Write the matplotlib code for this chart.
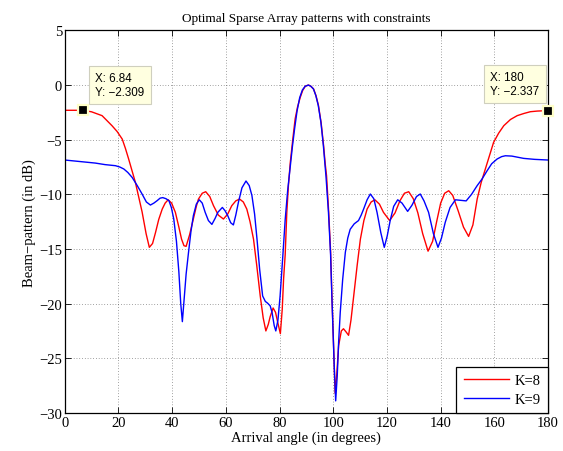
import matplotlib
matplotlib.use("Agg")
import matplotlib.pyplot as plt

# K=8 (red): angle (deg), beam pattern (dB)
red_x = [0, 3, 6.84, 10, 13.9, 17.6, 19.5, 21.4, 22.6, 23.8, 25, 26.3, 27.5, 28.8, 30.3, 31.5, 32.7, 33.8,
         35, 36.3, 37.4, 38.5, 39.8, 41.2, 42.5, 43.5, 44.4, 45.2, 46.5, 47.9, 49, 49.8, 51.2, 52.5, 54,
         55.4, 57.2, 59.1, 60.7, 62.2, 63.7, 65.1, 66.5, 67.8, 69, 70.3, 71.5, 72.8, 73.9, 74.9, 75.8, 76.5,
         77.6, 78.5, 79.4, 80.3, 81.0, 81.5, 82.1, 82.7, 83.3, 84, 85, 85.8, 86.7, 87.7, 88.6, 89.6, 90.8,
         91.7, 92.7, 93.6, 94.5, 95.5, 96.4, 97.0, 97.5, 98.3, 99.0, 99.5, 100.2, 100.7, 101.3, 102, 103,
         103.8, 104.8, 105.7, 106.6, 107.6, 108.9, 110.1, 111.4, 112.6, 114.1, 115.5, 117.2, 118.7, 121, 123,
         124.8, 126.5, 128.1, 129.8, 131.5, 133.3, 135.3, 137, 138.5, 140, 141.5, 143, 144.5, 146.5, 148.5,
         150.4, 152, 153.6, 155.1, 156.6, 158.2, 159.7, 161.6, 163.5, 166, 168.5, 171, 173.4, 176, 180]
red_y = [-2.31, -2.31, -2.309, -2.45, -2.8, -3.72, -4.25, -4.94, -5.8, -6.77, -7.8, -8.9, -10.2, -11.6, -13.6,
         -14.85, -14.5, -13.5, -12.3, -11.35, -10.8, -10.5, -10.8, -11.65, -13.0, -14.1, -14.7, -14.76,
         -13.7, -12.26, -11.1, -10.43, -9.9, -9.76, -10.2, -11.04, -11.9, -12.26, -11.8, -11.04, -10.6,
         -10.43, -10.7, -11.35, -12.5, -14.1, -16.5, -19.3, -21.3, -22.5, -21.9, -21.2, -20.4, -20.8,
         -21.8, -22.75, -20.5, -17.75, -15.5, -11.65, -9.2, -7.07, -4.8, -3.1, -2.0, -1.13, -0.5, -0.1, 0.0,
         -0.12, -0.37, -1.0, -1.89, -3.5, -5.55, -7.2, -8.3, -11.65, -15.2, -19.3, -24.5, -28.2, -26.5,
         -23.85, -22.5, -22.3, -22.6, -22.9, -21.5, -19.3, -16.5, -14.1, -12.4, -11.35, -10.7, -10.5, -10.9,
         -11.65, -12.4, -11.7, -10.6, -9.9, -9.76, -10.4, -11.7, -13.6, -15.2, -14.3, -12.5, -10.8, -9.9,
         -9.67, -10.1, -11.5, -13.0, -13.85, -12.8, -10.43, -8.9, -7.7, -6.4, -5.25, -4.4, -3.72, -3.15,
         -2.8, -2.6, -2.44, -2.38, -2.337]

# K=9 (blue)
blue_x = [0, 5, 11.4, 15, 18.9, 20.5, 22, 23.5, 25.1, 27, 28.8, 30.4, 31.9, 33.2, 34.4, 35.5, 36.5, 37.7,
          38.8, 39.7, 40.6, 41.6, 42.5, 43.2, 43.8, 44.5, 45.2, 46.1, 47.0, 47.9, 49.0, 50.1, 51.2, 52.3,
          53.5, 54.8, 56, 57, 58.7, 59.7, 60.7, 61.8, 62.8, 63.7, 64.7, 66, 67.5, 68.7, 69.7, 70.7, 71.6,
          72.6, 73.7, 74.7, 75.5, 76.5, 77.2, 78, 78.6, 79.4, 80.2, 81.2, 82.1, 83, 84, 84.8, 85.6, 86.5,
          87.5, 88.5, 89.5, 90.7, 91.6, 92.6, 93.5, 94.4, 95.4, 96.3, 97.3, 98.2, 99.0, 99.5, 100.4, 100.9,
          101.5, 102, 102.6, 103.5, 104.5, 105.4, 106.3, 107.8, 109.4, 110.4, 111.3, 112.6, 113.8, 115.1,
          116.3, 117.7, 119, 120.1, 121.2, 122.5, 124, 125.6, 127.7, 129.3, 131, 132.4, 133.8, 135.5, 137.3,
          139, 140.3, 141.7, 143.5, 145.5, 147.5, 149.5, 151.5, 153.6, 155.4, 157.3, 159, 161, 162.7, 164.1,
          166.5, 168.5, 170.9, 175, 180]
blue_y = [-6.86, -6.98, -7.14, -7.28, -7.38, -7.5, -7.68, -8.0, -8.45, -9.2, -9.97, -10.7, -10.98, -10.8,
          -10.58, -10.35, -10.3, -10.4, -10.58, -11.2, -12.26, -14.3, -17.1, -20.0, -21.65, -19.5, -17.3,
          -15.3, -13.4, -11.95, -10.9, -10.5, -10.8, -11.65, -12.4, -12.75, -12.2, -11.65, -11.2, -11.5,
          -11.95, -12.6, -12.8, -11.9, -10.7, -9.4, -8.78, -9.2, -10.1, -11.8, -14.1, -16.9, -19.3, -19.8,
          -19.95, -20.2, -20.8, -22.0, -22.5, -21.5, -19.3, -15.7, -12.3, -9.7, -7.4, -5.6, -4.0, -2.4,
          -1.15, -0.45, -0.12, 0.0, -0.1, -0.35, -0.95, -1.85, -3.4, -5.5, -8.4, -11.6, -15.5, -19.5, -26.0,
          -28.9, -26.5, -23.5, -20.8, -17.8, -15.3, -14.0, -13.2, -12.7, -12.4, -11.9, -11.35, -10.5, -9.97,
          -10.4, -11.65, -13.5, -14.85, -13.8, -12.4, -11.1, -10.5, -10.8, -11.56, -11.0, -10.2, -9.97,
          -10.6, -11.65, -13.6, -14.85, -14.0, -12.56, -11.2, -10.5, -10.55, -10.6, -10.0, -9.2, -8.6,
          -7.84, -7.2, -6.77, -6.55, -6.47, -6.5, -6.6, -6.71, -6.8, -6.86]

# data tips
tip_x = [6.84, 180]
tip_y = [-2.309, -2.337]
tip_labels = ["X: 6.84\nY: \u22122.309", "X: 180\nY: \u22122.337"]

xticks = [0, 20, 40, 60, 80, 100, 120, 140, 160, 180]
yticks = [5, 0, -5, -10, -15, -20, -25, -30]

serif = ["Liberation Serif", "DejaVu Serif"]
plt.rcParams["font.family"] = serif
plt.rcParams["axes.unicode_minus"] = True

fig = plt.figure(figsize=(5.63, 4.52), dpi=100)
ax = fig.add_axes([0.115, 0.0843, 0.8585, 0.8462])

ax.plot(red_x, red_y, color="#ff0000", lw=1.0, label="K=8")
ax.plot(blue_x, blue_y, color="#0000ff", lw=1.0, label="K=9")

ax.set_xlim(0, 180)
ax.set_ylim(-30, 5)
ax.set_xticks(xticks)
ax.set_yticks(yticks)
ax.set_yticklabels([str(v).replace("-", "\u2212") for v in yticks])
ax.grid(True, color="black", linestyle=(0, (1, 3)), linewidth=0.5, alpha=0.7)
ax.tick_params(direction="in", top=True, right=True, length=4, width=0.6, labelsize=10.5, pad=2)
for s in ax.spines.values():
    s.set_linewidth(0.9)

ax.set_xlabel("Arrival angle (in degrees)", fontsize=10.5, labelpad=1)
ax.set_ylabel("Beam\u2212pattern (in dB)", fontsize=10.5, labelpad=2)
ax.set_title("Optimal Sparse Array patterns with constraints", fontsize=9.5, pad=7)

leg = ax.legend(loc="lower right", fontsize=10.5, fancybox=False, framealpha=1,
                edgecolor="black", borderaxespad=0, handlelength=3.1, borderpad=0.5,
                labelspacing=0.35, handletextpad=0.4)
leg.get_frame().set_linewidth(0.9)

# data tip markers and boxes
ax.plot(tip_x, tip_y, linestyle="none", marker="s", markersize=7.2, color="black",
        markeredgecolor="#ffffc8", markeredgewidth=1.6, clip_on=False, zorder=5)
offsets = [(8.9, 9.0), (-41.8, 10.0)]
for (tx, ty), lab, (ox, oy) in zip(zip(tip_x, tip_y), tip_labels, offsets):
    ax.annotate(lab, xy=(tx, ty), xytext=(ox, oy), textcoords="offset points",
                fontsize=8.4, family=["Liberation Sans", "DejaVu Sans"], ha="left", va="bottom",
                linespacing=1.15,
                bbox=dict(boxstyle="square,pad=0.55", fc="#ffffe0", ec="#cfcfbe", lw=0.8),
                zorder=6)

fig.savefig("out.png", dpi=100)
